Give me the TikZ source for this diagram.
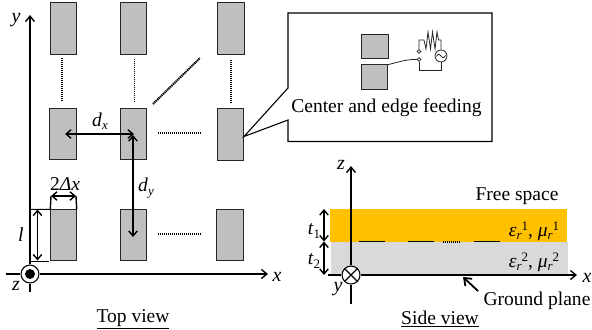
\documentclass[tikz,border=0pt]{standalone}
\usepackage{fontspec}
\setmainfont{Liberation Serif}
\usetikzlibrary{arrows.meta}
\definecolor{sub1}{RGB}{255,192,0}
\definecolor{sub2}{RGB}{217,217,217}
\definecolor{patchgray}{RGB}{191,191,191}
\newcommand{\sbs}[1]{\raisebox{-3.5pt}{\fontsize{13}{13}\selectfont #1}}
\newcommand{\sps}[1]{\raisebox{6pt}{\fontsize{13}{13}\selectfont #1}}
\tikzset{
 patch/.style={draw=black!85,line width=1.2pt,fill=patchgray,minimum width=26.5pt,minimum height=51.5pt,inner sep=0pt,outer sep=0pt},
 smallpatch/.style={draw=black!85,line width=1.2pt,fill=patchgray,minimum width=26.5pt,minimum height=24.5pt,inner sep=0pt,outer sep=0pt},
 axis/.style={line width=1.4pt,-{Straight Barb[length=5.5pt,width=9pt,line width=1.4pt]}},
 axisplain/.style={line width=1.4pt},
 dim/.style={line width=1.4pt,{Straight Barb[length=5pt,width=8.5pt,line width=1.4pt]}-{Straight Barb[length=5pt,width=8.5pt,line width=1.4pt]}},
 dotline/.style={line width=2pt,dash pattern=on 1.3pt off 0.7pt},
 lbl/.style={inner sep=0pt,outer sep=0pt,font=\fontsize{19.6}{20}\selectfont},
 ital/.style={lbl,font=\fontsize{20}{20}\selectfont\itshape},
 thinrule/.style={line width=1pt},
 wire/.style={line width=0.8pt,draw=black!85},
 term/.style={circle,draw=black!85,line width=0.7pt,fill=white,minimum size=3.6pt,inner sep=0pt},
 hub/.style={circle,draw=black,line width=1.1pt,fill=white,minimum size=18pt,inner sep=0pt},
}
\begin{document}
\begin{tikzpicture}[x=1bp,y=-1bp]
\useasboundingbox (0,0) rectangle (592,329);
% top view patches
\node[patch] (a1) at (63.5,28.5) {};
\node[patch] (a2) at (133.5,28.5) {};
\node[patch] (a3) at (231,28.5) {};
\node[patch] (b1) at (63,134) {};
\node[patch] (b2) at (133.5,134) {};
\node[patch] (b3) at (230.5,134.5) {};
\node[patch] (c1) at (63.5,235) {};
\node[patch] (c2) at (133.5,235) {};
\node[patch] (c3) at (230,235) {};
% dotted continuation
\coordinate (v1a) at (62,58); \coordinate (v1b) at (62,100);
\coordinate (v2a) at (134.5,59); \coordinate (v2b) at (134.5,101);
\coordinate (v3a) at (231,60); \coordinate (v3b) at (231,102);
\coordinate (da) at (153,104); \coordinate (db) at (200,58);
\coordinate (h1a) at (158,132.5); \coordinate (h1b) at (200.5,132.5);
\coordinate (h2a) at (158,234); \coordinate (h2b) at (201,234);
\draw[dotline] (v1a)--(v1b);
\draw[dotline] (v2a)--(v2b);
\draw[dotline] (v3a)--(v3b);
\draw[dotline] (da)--(db);
\draw[dotline] (h1a)--(h1b);
\draw[dotline] (h2a)--(h2b);
% top view axes
\node[hub] (o1) at (30,274) {};
\fill[black] (o1.center) circle (5pt);
\coordinate (xs) at (6,274); \coordinate (xe) at (268,274);
\coordinate (ys) at (30,292); \coordinate (ye) at (30,15);
\draw[axisplain] (xs)--(o1.west);
\draw[axis] (o1.east)--(xe);
\draw[axisplain] (ys)--(o1.south);
\draw[axis] (o1.north)--(ye);
\node[ital] (ly) at (16,20) {y};
\node[ital] (lx) at (277,277) {x};
\node[ital] (lz) at (16,286) {z};
% dims top view
\coordinate (dx1) at (65,134); \coordinate (dx2) at (134,134);
\coordinate (dy1) at (133,135); \coordinate (dy2) at (133,237);
\draw[dim] (dx1)--(dx2);
\draw[dim] (dy1)--(dy2);
\node[lbl] (ldx) at (100,121) {\textit{d}\sbs{\textit{x}}};
\node[lbl] (ldy) at (146,188) {\textit{d}\sbs{\textit{y}}};
\coordinate (w1) at (51,196); \coordinate (w2) at (76,196);
\draw[axisplain] (w1)--(c1.north west);
\draw[axisplain] (w2)--(c1.north east);
\draw[dim] (w1)--(w2);
\node[lbl] (l2dx) at (65,184) {2\textit{Δx}};
\coordinate (l1) at (37.5,209.5); \coordinate (l2) at (37.5,260.5);
\coordinate (t1) at (30,209.5); \coordinate (t2) at (49,261); \coordinate (t3) at (30,261);
\draw[thinrule] (t1)--(c1.north west);
\draw[thinrule] (t3)--(t2);
\draw[dim] (l1)--(l2);
\node[ital] (ll) at (21,235) {l};
\node[lbl] (top) at (133,319) {\underline{Top view}};
% callout
\coordinate (p1) at (288,13); \coordinate (p2) at (492,13); \coordinate (p3) at (492,141.5); \coordinate (p4) at (288,141.5);
\coordinate (p5) at (288,120); \coordinate (tip) at (244,136.5); \coordinate (p6) at (288,88);
\draw[line width=1.1pt,fill=white] (p1)--(p2)--(p3)--(p4)--(p5)--(tip)--(p6)--cycle;
\node[smallpatch] (s1) at (375,46.5) {};
\node[smallpatch] (s2) at (374.5,77) {};
\node[term] (t1a) at (419,51.5) {};
\node[term] (t1b) at (419,59.5) {};
\node[circle,draw=black!85,line width=0.8pt,fill=white,minimum size=12pt,inner sep=0pt] (src) at (441,56) {};
\draw[wire] (t1a.north)--(419,40)--(424,40)--(426,49)--(428,32)--(430.5,49)--(432.5,32)--(435,49)--(437,32)--(438.5,40)--(441,40)--(src.north);
\draw[wire] (src.south)--(441,70)--(419,70)--(t1b.south);
\draw[wire] (s2.north east) .. controls (398,62) and (408,59) .. (t1b.west);
\draw[wire] (436.5,56.5) .. controls (438,53.5) and (440,53.5) .. (441,56) .. controls (442,58.5) and (444,58.5) .. (445.5,55.5);
\node[lbl] (cap) at (386.5,108) {Center and edge feeding};
% side view
\fill[sub1] (330,209) rectangle (567,241.5);
\fill[sub2] (331,241.5) rectangle (568,274);
\coordinate (g1a) at (359,241.5); \coordinate (g1b) at (385,241.5);
\coordinate (g2a) at (408,241.5); \coordinate (g2b) at (434,241.5);
\coordinate (g3a) at (443,241.5); \coordinate (g3b) at (460,241.5);
\coordinate (g4a) at (474,241.5); \coordinate (g4b) at (500,241.5);
\draw[thinrule] (g1a)--(g1b);
\draw[thinrule] (g2a)--(g2b);
\draw[dotline] (g3a)--(g3b);
\draw[thinrule] (g4a)--(g4b);
\node[hub] (o2) at (351,275) {};
\draw[line width=1.1pt] (o2.north west)--(o2.south east);
\draw[line width=1.1pt] (o2.north east)--(o2.south west);
\coordinate (sxs) at (328,275); \coordinate (sxe) at (577,275);
\coordinate (szs) at (351,304); \coordinate (sze) at (351,166);
\draw[axisplain] (sxs)--(o2.west);
\draw[axis] (o2.east)--(sxe);
\draw[axisplain] (szs)--(o2.south);
\draw[axis] (o2.north)--(sze);
\node[ital] (lx2) at (587,278) {x};
\node[ital] (ly2) at (338,289) {y};
\node[ital] (lz2) at (341,165) {z};
\coordinate (ta) at (324,209); \coordinate (tb) at (324,241.5); \coordinate (tc) at (324,275);
\draw[dim] (ta)--(tb);
\draw[dim] (tb)--(tc);
\node[lbl] (lt1) at (314,231) {\textit{t}\sbs{1}};
\node[lbl] (lt2) at (314,261) {\textit{t}\sbs{2}};
\node[lbl] (fs) at (517,196) {Free space};
\node[lbl] (e1) at (534,231) {\textit{ε}\sbs{\textit{r}}\sps{1}, \textit{μ}\sbs{\textit{r}}\sps{1}};
\node[lbl] (e2) at (534,262) {\textit{ε}\sbs{\textit{r}}\sps{2}, \textit{μ}\sbs{\textit{r}}\sps{2}};
\node[lbl] (gp) at (537,301) {Ground plane};
\coordinate (gps) at (478,291); \coordinate (gpe) at (463,277);
\draw[line width=1.8pt,-{Straight Barb[length=6.5pt,width=10pt,line width=1.8pt]}] (gps)--(gpe);
\node[lbl] (side) at (440,319) {\underline{Side view}};
\end{tikzpicture}
\end{document}
